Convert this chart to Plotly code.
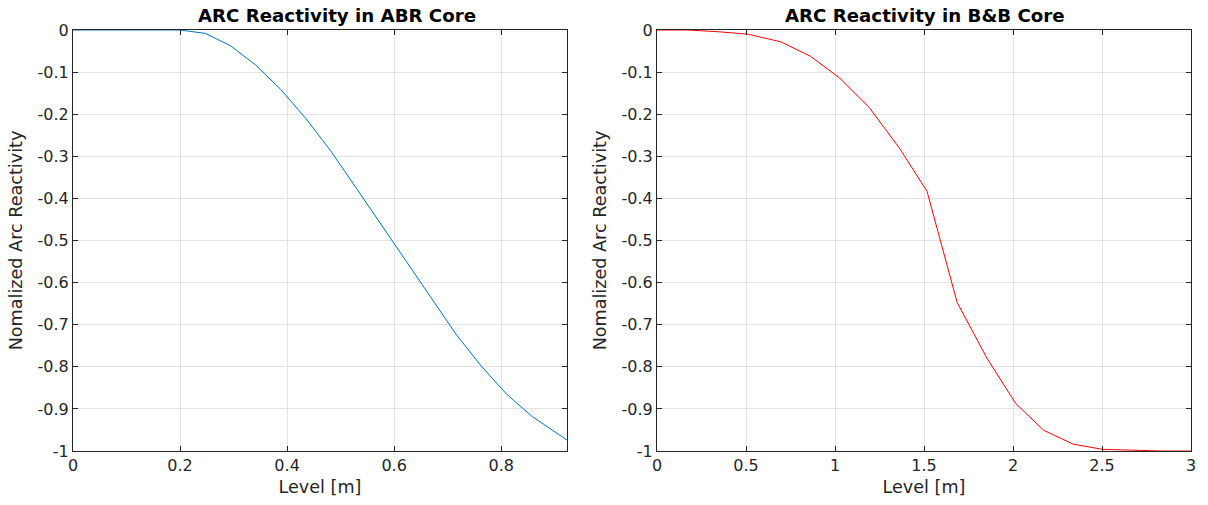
import plotly.graph_objects as go

# ABR core: normalized arc reactivity vs. level
abr_level = [0.0, 0.2, 0.247, 0.294, 0.341, 0.388, 0.435, 0.482, 0.529, 0.576,
             0.623, 0.670, 0.717, 0.764, 0.811, 0.858, 0.905, 0.923]
abr_react = [0.0, 0.0, -0.008, -0.037, -0.083, -0.141, -0.21, -0.288, -0.375, -0.463,
             -0.552, -0.640, -0.725, -0.800, -0.866, -0.918, -0.958, -0.974]

# B&B core: normalized arc reactivity vs. level
bb_level = [0.0, 0.17, 0.34, 0.512, 0.695, 0.861, 1.026, 1.192, 1.361, 1.517,
            1.686, 1.853, 2.015, 2.173, 2.34, 2.503, 2.67, 2.835, 3.0]
bb_react = [0.0, 0.0, -0.004, -0.010, -0.028, -0.062, -0.114, -0.184, -0.28, -0.383,
            -0.647, -0.779, -0.887, -0.951, -0.984, -0.996, -0.998, -1.0, -1.0]

abr_xticks = [0, 0.2, 0.4, 0.6, 0.8]
abr_xticktext = ["0", "0.2", "0.4", "0.6", "0.8"]
bb_xticks = [0, 0.5, 1, 1.5, 2, 2.5, 3]
bb_xticktext = ["0", "0.5", "1", "1.5", "2", "2.5", "3"]
yticks = [0, -0.1, -0.2, -0.3, -0.4, -0.5, -0.6, -0.7, -0.8, -0.9, -1]
yticktext = ["0", "-0.1", "-0.2", "-0.3", "-0.4", "-0.5", "-0.6", "-0.7", "-0.8", "-0.9", "-1"]

titles = ["ARC Reactivity in ABR Core", "ARC Reactivity in B&B Core"]
x_title = "Level [m]"
y_title = "Nomalized Arc Reactivity"

W, H = 1208, 505
FONT = "DejaVu Sans"
AXC = "#262626"
GRID = "#e3e3e3"
TICK_SIZE = 16
LABEL_SIZE = 17.6
TITLE_SIZE = 18.2

fig = go.Figure()
fig.add_trace(go.Scatter(x=abr_level, y=abr_react, mode="lines",
                         line=dict(color="#0072BD", width=1), xaxis="x", yaxis="y",
                         showlegend=False))
fig.add_trace(go.Scatter(x=bb_level, y=bb_react, mode="lines",
                         line=dict(color="#FF0000", width=1), xaxis="x2", yaxis="y2",
                         showlegend=False))

left_dom = [73 / W, 567 / W]
right_dom = [657 / W, 1191 / W]
y_dom = [1 - 451 / H, 1 - 30 / H]

def xaxis(dom, rng, tv, tt, anchor):
    return dict(domain=dom, range=rng, tickvals=tv, ticktext=tt, anchor=anchor,
                automargin=False,
                showgrid=True, gridcolor=GRID, gridwidth=1, zeroline=False,
                showline=True, linecolor=AXC, linewidth=1, mirror="ticks",
                ticks="inside", ticklen=5, tickcolor=AXC,
                tickfont=dict(family=FONT, size=TICK_SIZE, color=AXC),
                title=dict(text=x_title, font=dict(family=FONT, size=LABEL_SIZE, color=AXC),
                           standoff=6))

def yaxis(anchor):
    return dict(domain=y_dom, range=[-1, 0], tickvals=yticks, ticktext=yticktext,
                anchor=anchor, automargin=False,
                showgrid=True, gridcolor=GRID, gridwidth=1,
                zeroline=False, showline=True, linecolor=AXC, linewidth=1,
                mirror="ticks", ticks="inside", ticklen=5, tickcolor=AXC,
                tickfont=dict(family=FONT, size=TICK_SIZE, color=AXC),
                title=dict(text=y_title, font=dict(family=FONT, size=LABEL_SIZE, color=AXC),
                           standoff=10))

fig.update_layout(
    width=W, height=H,
    margin=dict(l=0, r=0, t=0, b=0, autoexpand=False),
    paper_bgcolor="white", plot_bgcolor="white",
    xaxis=xaxis(left_dom, [0, 0.923], abr_xticks, abr_xticktext, "y"),
    yaxis=yaxis("x"),
    xaxis2=xaxis(right_dom, [0, 3], bb_xticks, bb_xticktext, "y2"),
    yaxis2=yaxis("x2"),
    annotations=[
        dict(text="<b>%s</b>" % titles[0], x=337 / W, y=1 - 15 / H,
             xref="paper", yref="paper", xanchor="center", yanchor="middle",
             showarrow=False, font=dict(family=FONT, size=TITLE_SIZE, color="black")),
        dict(text="<b>%s</b>" % titles[1], x=925 / W, y=1 - 15 / H,
             xref="paper", yref="paper", xanchor="center", yanchor="middle",
             showarrow=False, font=dict(family=FONT, size=TITLE_SIZE, color="black")),
    ],
)

fig.write_html("out.html")
